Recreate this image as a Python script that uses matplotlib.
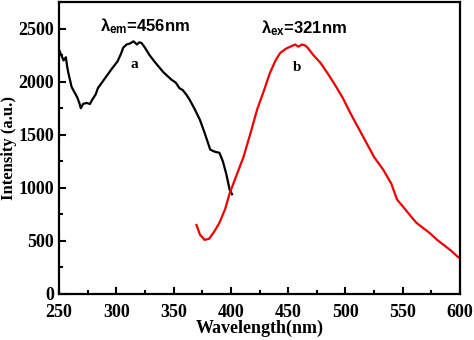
import matplotlib.pyplot as plt
from matplotlib.ticker import MultipleLocator

# curve a: emission-monitored excitation spectrum
wl_a = [250, 252, 254, 256, 257, 258, 261, 264, 266, 268, 269, 271, 274, 277, 279,
        282, 284, 288, 292, 296, 301, 304, 306, 309, 312, 315, 318, 320, 322, 325,
        329, 334, 341, 348, 352, 355, 358, 361, 364, 368, 373, 377, 382, 386, 390,
        393, 396, 399, 401]
int_a = [2300, 2250, 2200, 2230, 2150, 2090, 1950, 1890, 1850, 1790, 1750, 1790, 1800, 1790, 1830,
         1880, 1940, 2000, 2060, 2120, 2190, 2260, 2320, 2350, 2360, 2380, 2350, 2370, 2365, 2320,
         2250, 2180, 2090, 2020, 1990, 1940, 1920, 1880, 1830, 1750, 1640, 1520, 1360, 1340, 1330,
         1250, 1130, 980, 940]

# curve b: excitation-monitored emission spectrum
wl_b = [370, 373, 377, 381, 385, 390, 395, 399, 405, 411, 417, 423, 429, 434, 439,
        443, 448, 452, 456, 459, 462, 465, 467, 472, 478, 485, 492, 498, 504, 511,
        518, 525, 533, 540, 545, 552, 558, 562, 568, 574, 580, 586, 592, 598, 600]
int_b = [650, 560, 510, 520, 580, 670, 800, 950, 1120, 1290, 1510, 1740, 1920, 2080, 2200,
         2270, 2310, 2330, 2350, 2330, 2350, 2340, 2320, 2250, 2180, 2070, 1950, 1840, 1710, 1570,
         1430, 1290, 1170, 1040, 890, 800, 720, 670, 620, 570, 510, 460, 410, 350, 340]

plt.rcParams['font.family'] = ['Liberation Serif', 'DejaVu Serif']
plt.rcParams['font.weight'] = 'bold'

fig = plt.figure(figsize=(4.74, 3.40), dpi=100)
ax = fig.add_axes([0.1245, 0.1353, 0.846, 0.8587])

ax.plot(wl_a, int_a, color='black', lw=1.6)
ax.plot(wl_b, int_b, color='#ee0000', lw=1.6)

ax.set_xlim(250, 600)
ax.set_ylim(0, 2750)
ax.xaxis.set_major_locator(MultipleLocator(50))
ax.xaxis.set_minor_locator(MultipleLocator(25))
ax.yaxis.set_major_locator(MultipleLocator(500))
ax.yaxis.set_minor_locator(MultipleLocator(250))
ax.tick_params(which='both', direction='in', width=1.5, labelsize=13, top=False, right=False)
ax.tick_params(which='major', length=5)
ax.tick_params(which='minor', length=3)
ax.tick_params(axis='x', pad=7)
for lab in ax.get_xticklabels() + ax.get_yticklabels():
    lab.set_fontweight('bold')
for s in ax.spines.values():
    s.set_linewidth(1.6)

ax.set_xlabel('Wavelength(nm)', fontsize=13, fontweight='bold', labelpad=-1)
ax.set_ylabel('Intensity (a.u.)', fontsize=12, fontweight='bold', labelpad=1)

ax.text(286, 2520, r'$\mathregular{\lambda_{em}}$=456nm', fontsize=12, fontweight='bold',
        family='Liberation Sans', ha='left', va='center')
ax.text(426, 2500, r'$\mathregular{\lambda_{ex}}$=321nm', fontsize=12, fontweight='bold',
        family='Liberation Sans', ha='left', va='center')
ax.text(316, 2160, 'a', fontsize=11, fontweight='bold', ha='center', va='center')
ax.text(458, 2130, 'b', fontsize=11, fontweight='bold', ha='center', va='center')

fig.savefig('out.png', dpi=100)
